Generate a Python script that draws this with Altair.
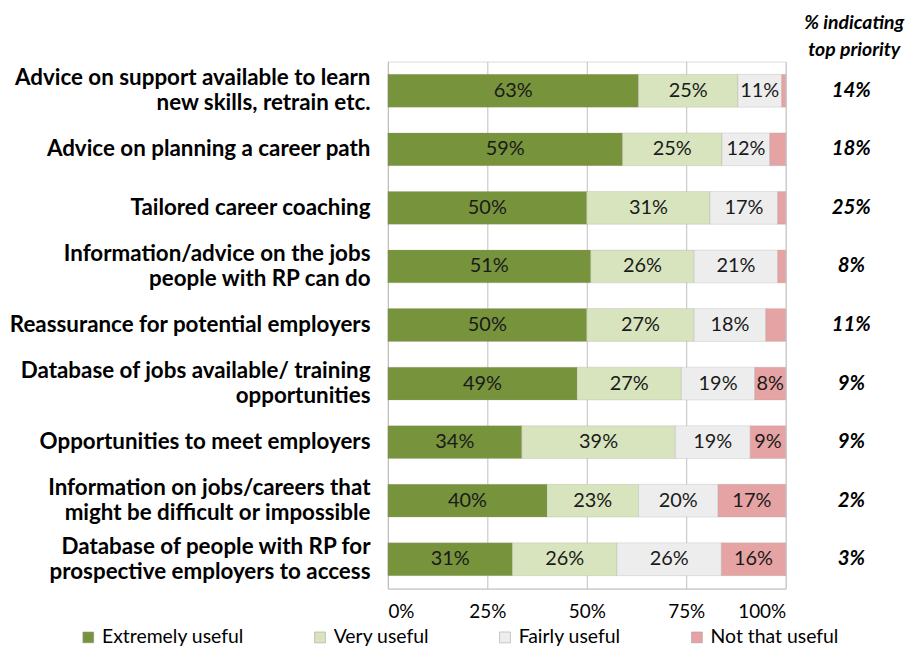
import altair as alt
import pandas as pd

categories = [
    "Advice on support available to learn|new skills, retrain etc.",
    "Advice on planning a career path",
    "Tailored career coaching",
    "Information/advice on the jobs|people with RP can do",
    "Reassurance for potential employers",
    "Database of jobs available/ training|opportunities",
    "Opportunities to meet employers",
    "Information on jobs/careers that|might be difficult or impossible",
    "Database of people with RP for|prospective employers to access",
]
series = ["Extremely useful", "Very useful", "Fairly useful", "Not that useful"]
extremely = [63, 59, 50, 51, 50, 49, 34, 40, 31]
very = [25, 25, 31, 26, 27, 27, 39, 23, 26]
fairly = [11, 12, 17, 21, 18, 19, 19, 20, 26]
not_that = [1, 4, 2, 2, 5, 8, 9, 17, 16]
top_priority = ["14%", "18%", "25%", "8%", "11%", "9%", "9%", "2%", "3%"]
colors = ["#77933C", "#D7E4BD", "#EDEDED", "#E6A3A3"]

rows = []
for i, c in enumerate(categories):
    for j, (s, vals) in enumerate(zip(series, [extremely, very, fairly, not_that])):
        rows.append({"category": c, "series": s, "order": j, "value": vals[i]})
df = pd.DataFrame(rows)
pri = pd.DataFrame({"category": categories, "priority": top_priority})
title_df = pd.DataFrame({"t": ["% indicating\ntop priority"]})

FONT = "Lato"

y_enc = alt.Y(
    "category:N",
    sort=categories,
    title=None,
    scale=alt.Scale(paddingInner=0.44, paddingOuter=0.22),
    axis=alt.Axis(
        labelExpr="split(datum.label, '|')",
        labelFont=FONT,
        labelFontSize=22.5,
        labelFontWeight="bold",
        labelColor="#000000",
        labelLineHeight=25,
        labelPadding=18,
        labelLimit=420,
        labelOffset=alt.condition("indexof(datum.value, '|') >= 0", alt.value(-12.5), alt.value(0)),
        ticks=False,
        domainColor="#BFBFBF",
    ),
)

bars = alt.Chart(df).mark_bar(stroke="#9a9a9a", strokeWidth=0.4, strokeOpacity=0.6).encode(
    x=alt.X(
        "value:Q",
        stack="normalize",
        title=None,
        scale=alt.Scale(domain=[0, 1]),
        axis=alt.Axis(
            format="%",
            values=[0, 0.25, 0.5, 0.75, 1],
            labelFont=FONT,
            labelFontSize=19,
            labelColor="#000000",
            labelPadding=14,
            ticks=False,
            grid=True,
            gridColor="#BFBFBF",
            domainColor="#BFBFBF",
        ),
    ),
    y=y_enc,
    color=alt.Color(
        "series:N",
        sort=series,
        scale=alt.Scale(domain=series, range=colors),
        legend=alt.Legend(
            title=None,
            orient="none",
            direction="horizontal",
            columns=4,
            legendX=-311,
            legendY=569,
            padding=0,
            symbolType="square",
            symbolSize=120,
            symbolStrokeColor="#999999",
            symbolStrokeWidth=0.5,
            labelFont=FONT,
            labelFontSize=19.5,
            labelColor="#000000",
            labelLimit=300,
            columnPadding=66,
        ),
    ),
    order=alt.Order("order:Q"),
)

labels = (
    alt.Chart(df)
    .transform_joinaggregate(total="sum(value)", groupby=["category"])
    .transform_window(cum="sum(value)", groupby=["category"], sort=[alt.SortField("order")])
    .transform_calculate(mid="(datum.cum - datum.value / 2) / datum.total",
                         lab="datum.value + '%'")
    .transform_filter("datum.value >= 6")
    .mark_text(font=FONT, fontSize=20, color="#1a1a1a", baseline="middle")
    .encode(x="mid:Q", y=alt.Y("category:N", sort=categories), text="lab:N")
)

priority = (
    alt.Chart(pri)
    .mark_text(font=FONT, fontSize=20.5, fontWeight="bold", fontStyle="italic",
               color="#000000", baseline="middle")
    .encode(x=alt.value(466), y=alt.Y("category:N", sort=categories), text="priority:N")
)

ptitle = (
    alt.Chart(title_df)
    .mark_text(font=FONT, fontSize=19.5, fontWeight="bold", fontStyle="italic",
               color="#000000", baseline="middle", lineBreak="\n", lineHeight=27)
    .encode(x=alt.value(469), y=alt.value(-39), text="t:N")
)

chart = (
    alt.layer(bars, labels, priority, ptitle)
    .properties(width=400, height=530,
                padding={"top": 3, "left": 0, "right": 0, "bottom": 0})
    .configure_view(stroke=None)
    .configure(background="#ffffff")
)

chart.save("out.html", embed_options={"renderer": "svg", "actions": False})
